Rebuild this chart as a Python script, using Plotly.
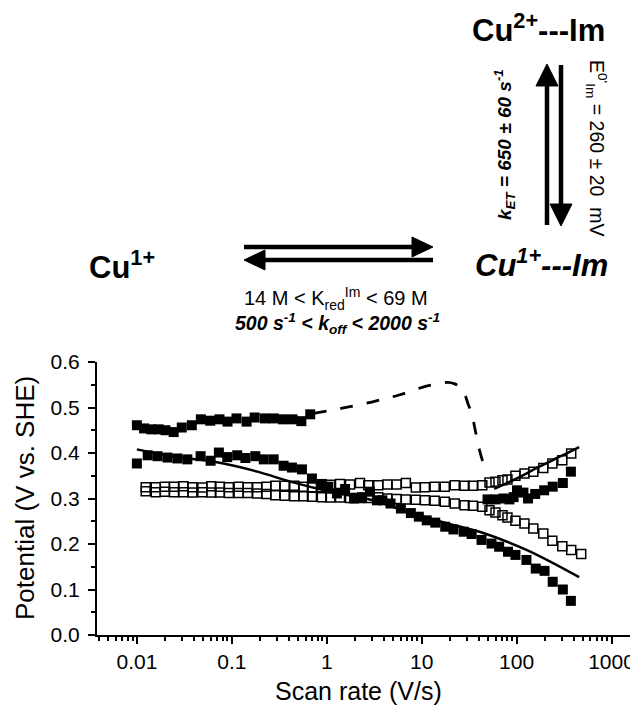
import plotly.graph_objects as go
import math

# ---------------- data ----------------
# filled squares, upper branch (low scan rates)
filled_upper_v = [0.0100, 0.0119, 0.0142, 0.0170, 0.0200, 0.0244, 0.0297, 0.0379, 0.0472, 0.0592,
                  0.0741, 0.0901, 0.112, 0.143, 0.174, 0.223, 0.277, 0.347, 0.436, 0.540, 0.670]
filled_upper_E = [0.461, 0.454, 0.452, 0.452, 0.450, 0.446, 0.456, 0.461, 0.474, 0.471,
                  0.474, 0.469, 0.476, 0.469, 0.478, 0.476, 0.476, 0.474, 0.474, 0.470, 0.485]

# filled squares, lower branch
filled_lower_v = [0.0100, 0.0130, 0.0165, 0.0210, 0.0267, 0.0340, 0.0469, 0.0598, 0.0731, 0.0895,
                  0.114, 0.139, 0.177, 0.217, 0.276, 0.351, 0.430, 0.548, 0.698, 0.888,
                  1.04, 1.28, 1.56, 1.94, 2.35, 2.85, 3.38, 3.86, 4.70, 6.04,
                  7.69, 9.33, 11.3, 13.9, 17.7, 21.6, 27.7, 33.6, 42.7, 54.4,
                  65.5, 81.2, 97.2, 127, 159, 197, 240, 307, 373]
filled_lower_E = [0.377, 0.395, 0.393, 0.390, 0.388, 0.386, 0.393, 0.383, 0.401, 0.391,
                  0.395, 0.389, 0.393, 0.386, 0.386, 0.372, 0.368, 0.364, 0.344, 0.332,
                  0.326, 0.311, 0.321, 0.300, 0.303, 0.315, 0.296, 0.296, 0.289, 0.278,
                  0.268, 0.260, 0.252, 0.247, 0.238, 0.232, 0.227, 0.222, 0.209, 0.201,
                  0.194, 0.183, 0.176, 0.165, 0.146, 0.141, 0.117, 0.100, 0.075]

# filled squares, rising branch at high scan rates
filled_rise_v = [49.4, 60.0, 72.7, 84.0, 93.0, 101, 118, 132, 157, 195, 240, 307, 373]
filled_rise_E = [0.298, 0.298, 0.300, 0.298, 0.303, 0.318, 0.313, 0.300, 0.310, 0.318, 0.326, 0.334, 0.359]

# open squares (two rows)
open_v = [0.0124, 0.0158, 0.0197, 0.0246, 0.0309, 0.0384, 0.0489, 0.0608, 0.0748, 0.0930,
          0.118, 0.147, 0.185, 0.231, 0.287, 0.360, 0.455, 0.570, 0.698, 0.888,
          1.09, 1.38, 1.76, 2.24, 2.74, 3.49, 4.34, 5.44, 6.81, 8.67,
          10.8, 13.7, 17.5, 22.3, 28.3, 34.6, 43.5, 51.8, 59.9, 71.0,
          80.1, 97.1, 121, 150, 191, 238, 303, 376]
open_upper_E = [0.325, 0.325, 0.326, 0.326, 0.327, 0.325, 0.324, 0.327, 0.326, 0.325,
                0.326, 0.325, 0.325, 0.326, 0.328, 0.328, 0.328, 0.326, 0.325, 0.325,
                0.330, 0.332, 0.331, 0.334, 0.329, 0.329, 0.331, 0.331, 0.334, 0.324,
                0.325, 0.326, 0.326, 0.329, 0.328, 0.328, 0.329, 0.335, 0.337, 0.340,
                0.342, 0.350, 0.355, 0.359, 0.367, 0.377, 0.384, 0.399]
open_lower_v = open_v + [479]
open_lower_E = [0.316, 0.314, 0.315, 0.314, 0.314, 0.313, 0.314, 0.313, 0.313, 0.312,
                0.312, 0.312, 0.311, 0.310, 0.307, 0.306, 0.305, 0.305, 0.304, 0.303,
                0.302, 0.302, 0.301, 0.301, 0.301, 0.303, 0.300, 0.299, 0.298, 0.297,
                0.296, 0.295, 0.293, 0.289, 0.285, 0.284, 0.282, 0.274, 0.269, 0.263,
                0.258, 0.251, 0.245, 0.234, 0.223, 0.207, 0.195, 0.187, 0.178]

# simulations
sim_lower_v = [0.0100, 0.0246, 0.0675, 0.186, 0.413, 1.09, 3.07, 6.97, 18.8, 40.7, 127, 456]
sim_lower_E = [0.408, 0.392, 0.380, 0.359, 0.337, 0.315, 0.296, 0.271, 0.245, 0.227, 0.187, 0.127]
sim_upper_v = [58, 107, 173, 300, 456]
sim_upper_E = [0.321, 0.347, 0.370, 0.394, 0.413]
sim_dash_v = [0.725, 1.50, 2.97, 5.89, 11.2, 18.8, 22.3, 25.1, 28.3, 30.7, 33.6, 37.0, 40.7, 44.0, 47.9]
sim_dash_E = [0.487, 0.499, 0.512, 0.528, 0.547, 0.555, 0.552, 0.545, 0.530, 0.509, 0.487, 0.446, 0.406, 0.382, 0.369]

x_tick_vals = [0.01, 0.1, 1, 10, 100, 1000]
x_tick_text = ["0.01", "0.1", "1", "10", "100", "1000"]
y_tick_vals = [0.0, 0.1, 0.2, 0.3, 0.4, 0.5, 0.6]
y_tick_text = ["0.0", "0.1", "0.2", "0.3", "0.4", "0.5", "0.6"]

# ---------------- figure ----------------
FONT = "Liberation Sans, Arial, Helvetica, sans-serif"
OFF = 8                      # page body margin of the browser
W, H = 638 - OFF, 713 - OFF
L, R, T, B = 97 - OFF, 0, 362 - OFF, 78
PW = W - L - R
PH = H - T - B


def px(x):
    """reference-window x pixel -> paper coordinate"""
    return (x - OFF - L) / PW


def py(y):
    """reference-window y pixel -> paper coordinate"""
    return (H - B - (y - OFF)) / PH


fig = go.Figure()

fig.add_trace(go.Scatter(x=open_v, y=open_upper_E, mode="markers",
                         marker=dict(symbol="square-open", size=9, color="black",
                                     line=dict(width=1.5, color="black")),
                         showlegend=False))
fig.add_trace(go.Scatter(x=open_lower_v, y=open_lower_E, mode="markers",
                         marker=dict(symbol="square-open", size=9, color="black",
                                     line=dict(width=1.5, color="black")),
                         showlegend=False))
for xs, ys in [(filled_upper_v, filled_upper_E), (filled_lower_v, filled_lower_E),
               (filled_rise_v, filled_rise_E)]:
    fig.add_trace(go.Scatter(x=xs, y=ys, mode="markers",
                             marker=dict(symbol="square", size=10, color="black",
                                         line=dict(width=0)),
                             showlegend=False))
fig.add_trace(go.Scatter(x=sim_lower_v, y=sim_lower_E, mode="lines",
                         line=dict(color="black", width=2.5, shape="spline"),
                         showlegend=False))
fig.add_trace(go.Scatter(x=sim_upper_v, y=sim_upper_E, mode="lines",
                         line=dict(color="black", width=2.5, shape="spline"),
                         showlegend=False))
fig.add_trace(go.Scatter(x=sim_dash_v, y=sim_dash_E, mode="lines",
                         line=dict(color="black", width=2.8, shape="spline",
                                   smoothing=0.8, dash="13px,14px"),
                         showlegend=False))

minor_x = [m * 10.0 ** e for e in range(-3, 4) for m in range(2, 10)]

fig.update_layout(
    width=W, height=H,
    margin=dict(l=L, r=R, t=T, b=B, pad=0),
    paper_bgcolor="white", plot_bgcolor="white",
    font=dict(family=FONT, color="black"),
    xaxis=dict(type="log", range=[math.log10(0.0038), math.log10(1900)],
               showgrid=False, zeroline=False,
               showline=True, linewidth=2, linecolor="black",
               ticks="outside", ticklen=7, tickwidth=2, tickcolor="black",
               tickmode="array", tickvals=x_tick_vals, ticktext=x_tick_text,
               tickfont=dict(size=21, family=FONT, color="black"),
               minor=dict(tickmode="array", tickvals=minor_x, ticks="outside",
                          ticklen=4, tickwidth=1.5, tickcolor="black", showgrid=False)),
    yaxis=dict(range=[0, 0.6], showgrid=False, zeroline=False,
               showline=True, linewidth=2, linecolor="black",
               ticks="outside", ticklen=7, tickwidth=2, tickcolor="black",
               tickmode="array", tickvals=y_tick_vals, ticktext=y_tick_text,
               ticklabelstandoff=4,
               tickfont=dict(size=21, family=FONT, color="black"),
               minor=dict(dtick=0.05, ticks="outside", ticklen=4, tickwidth=1.5,
                          tickcolor="black", showgrid=False)),
)

annos = [
    dict(text="Potential (V vs. SHE)", x=px(25), y=py(498), textangle=-90, size=26),
    dict(text="Scan rate (V/s)", x=px(358), y=py(691), size=25),
    dict(text="<b>Cu<sup>2+</sup>---Im</b>", x=px(538), y=py(28), size=31),
    dict(text="<b>Cu<sup>1+</sup></b>", x=px(122), y=py(265), size=31),
    dict(text="<b><i>Cu<sup>1+</sup>---Im</i></b>", x=px(541), y=py(263), size=31),
    dict(text="<b><i>k<sub>ET</sub> = 650 ± 60 s<sup>-1</sup></i></b>", x=px(505), y=py(145),
         textangle=-90, size=19),
    dict(text="E<sup>0'</sup><sub>Im</sub> = 260 ± 20  mV", x=px(596), y=py(148),
         textangle=90, size=19.5),
    dict(text="14 M &lt; K<sub>red</sub><sup>Im</sup> &lt; 69 M", x=px(336), y=py(298), size=20),
    dict(text="<b><i>500 s<sup>-1</sup> &lt; k<sub>off</sub> &lt; 2000 s<sup>-1</sup></i></b>",
         x=px(337), y=py(323), size=19.5),
]
for a in annos:
    fig.add_annotation(text=a["text"], x=a["x"], y=a["y"], xref="paper", yref="paper",
                       xanchor="center", yanchor="middle", showarrow=False,
                       textangle=a.get("textangle", 0),
                       font=dict(size=a["size"], family=FONT, color="black"))

# reaction-scheme arrows (decorative)
def line_shape(x0, y0, x1, y1, w=4.5):
    fig.add_shape(type="line", xref="paper", yref="paper",
                  x0=px(x0), y0=py(y0), x1=px(x1), y1=py(y1),
                  line=dict(color="black", width=w))


def tri(pts):
    path = "M " + " L ".join(f"{px(a):.5f},{py(b):.5f}" for a, b in pts) + " Z"
    fig.add_shape(type="path", xref="paper", yref="paper", path=path,
                  fillcolor="black", line=dict(color="black", width=1))

# right-pointing (top) arrow
line_shape(244, 247, 418, 247)
tri([(433, 247), (412, 237), (412, 257)])
# left-pointing (bottom) arrow
line_shape(259, 260, 433, 260)
tri([(244, 260), (265, 250), (265, 270)])
# up arrow
line_shape(547, 225, 547, 80)
tri([(547, 64), (536, 86), (558, 86)])
# down arrow
line_shape(561, 65, 561, 210)
tri([(561, 226), (550, 204), (572, 204)])

fig.write_html("out.html")
